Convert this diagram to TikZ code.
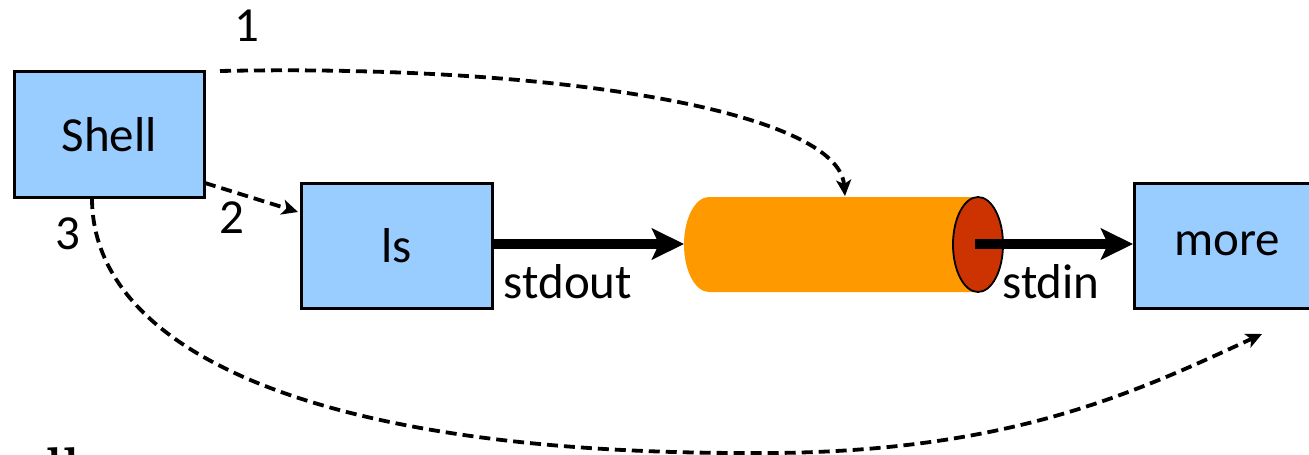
\documentclass[tikz,border=0pt]{standalone}
\usepackage{fontspec}
\setmainfont{Carlito}
\usetikzlibrary{arrows.meta}
\definecolor{boxblue}{HTML}{99CCFF}
\definecolor{pipeorange}{HTML}{FF9900}
\definecolor{pipeend}{HTML}{CC3300}
\tikzset{
  procbox/.style={draw=black, line width=2.6pt, fill=boxblue, inner sep=0pt},
  lbl/.style={font=\fontsize{49}{54}\selectfont, inner sep=0pt},
  flow/.style={line width=10pt, -{Stealth[length=32pt,width=31pt,inset=7pt]}},
  fork/.style={dash pattern=on 11pt off 6pt, line width=3.8pt, -{Stealth[length=16pt,width=15pt,inset=4pt]}}
}
\begin{document}
\begin{tikzpicture}[x=1pt,y=-1pt]
\useasboundingbox (0,0) rectangle (1309,455);

% processes
\node[procbox, minimum width=190pt, minimum height=126pt, anchor=north west] (shell) at (13,70) {};
\node[lbl] at (shell.center) {Shell};
\node[procbox, minimum width=191pt, minimum height=125pt, anchor=north west] (ls) at (300,182) {};
\node[lbl] at (ls.center) {ls};
\node[procbox, minimum width=185pt, minimum height=125pt, anchor=north west] (more) at (1133,182) {};
\node[lbl] at (1227,244) {more};

% the pipe
\fill[pipeorange] (709,197) -- (978,197) -- (978,292) -- (709,292)
  arc[start angle=90, end angle=270, x radius=25pt, y radius=-47.5pt] -- cycle;
\draw[line width=1.8pt, fill=pipeend] (978,244.5) ellipse[x radius=25pt, y radius=47.5pt];
\coordinate (pipein) at (684,244);
\coordinate (pipeout) at (975,244);
\coordinate (pipetop) at (845,196);

% data flow
\draw[flow] (ls.east |- 0,244) -- (pipein);
\draw[flow] (pipeout) -- (more.west |- 0,244);
\node[lbl] at (568,282) {stdout};
\node[lbl] at (1051,282) {stdin};

% process creation by the shell
\coordinate (s1) at (220,71);
\coordinate (s2) at (205,183);
\coordinate (e2) at (298,212);
\coordinate (s3) at (92,198);
\coordinate (m3) at (740,453);
\coordinate (e3) at (1262,334);
\draw[fork] (s1) .. controls (560,64) and (838,112) .. (pipetop);
\draw[fork] (s2) -- (e2);
\draw[fork] (s3) .. controls (92,345) and (300,452) .. (m3)
  .. controls (1000,456) and (1130,395) .. (e3);
\node[lbl] at (247,26) {1};
\node[lbl] at (232,218) {2};
\node[lbl] at (68,234) {3};

% heading running off the lower edge
\node[inner sep=0pt, anchor=north west] (cut) at (45,447.5)
  {\fontsize{56}{60}\fontspec{Latin Modern Roman}\bfseries ll};
\end{tikzpicture}
\end{document}
